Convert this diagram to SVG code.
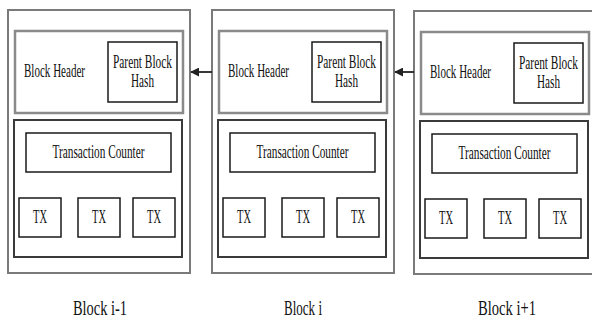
<svg xmlns="http://www.w3.org/2000/svg" width="592" height="320" viewBox="0 0 592 320">
<style>
.outer{fill:#fff;stroke:#7a7a7a;stroke-width:2}
.hdr{fill:#fff;stroke:#8a8a8a;stroke-width:2.5}
.body{fill:#fff;stroke:#3a3a3a;stroke-width:2}
.box{fill:#fff;stroke:#1a1a1a;stroke-width:1.5}
text{font-family:"Liberation Serif","DejaVu Serif","Times New Roman",serif;fill:#111}
.t{font-size:18px}
.m{text-anchor:middle}
.lbl{font-size:21px;text-anchor:middle}
.conn{stroke:#222;stroke-width:1.8;fill:none}
</style>
<defs>
<marker id="ah" viewBox="0 0 10 10" refX="9" refY="5" markerWidth="5" markerHeight="5" orient="auto">
<path d="M0,0 L10,5 L0,10 z" fill="#222"/>
</marker>
<g id="blk">
<rect class="outer" x="8" y="10" width="182" height="263"/>
<rect class="hdr" x="15" y="31" width="168" height="82"/>
<text class="t" x="24" y="77" textLength="61" lengthAdjust="spacingAndGlyphs">Block Header</text>
<rect class="box" x="108" y="42" width="69" height="60"/>
<text class="t m" x="142.5" y="68" textLength="59" lengthAdjust="spacingAndGlyphs">Parent Block</text>
<text class="t m" x="142.5" y="87" textLength="23" lengthAdjust="spacingAndGlyphs">Hash</text>
<rect class="body" x="14" y="120" width="168" height="137"/>
<rect class="box" x="26" y="133" width="145" height="39"/>
<text class="t m" x="98.5" y="158" textLength="92" lengthAdjust="spacingAndGlyphs">Transaction Counter</text>
<rect class="box" x="19" y="198" width="42" height="39"/>
<text class="t m" x="40" y="223" textLength="14" lengthAdjust="spacingAndGlyphs">TX</text>
<rect class="box" x="78" y="198" width="42" height="39"/>
<text class="t m" x="99" y="223" textLength="14" lengthAdjust="spacingAndGlyphs">TX</text>
<rect class="box" x="133" y="198" width="42" height="39"/>
<text class="t m" x="154" y="223" textLength="14" lengthAdjust="spacingAndGlyphs">TX</text>
</g>
</defs>
<g id="block-i-minus-1">
<use href="#blk"/>
<text class="lbl" x="100" y="315" textLength="54" lengthAdjust="spacingAndGlyphs">Block i-1</text>
</g>
<g id="block-i">
<use href="#blk" transform="translate(204,0)"/>
<text class="lbl" x="303" y="315" textLength="38" lengthAdjust="spacingAndGlyphs">Block i</text>
</g>
<g id="block-i-plus-1">
<use href="#blk" transform="translate(406,1)"/>
<text class="lbl" x="507" y="315" textLength="58" lengthAdjust="spacingAndGlyphs">Block i+1</text>
</g>
<g id="connectors">
<line class="conn" x1="212" y1="72" x2="191" y2="72" marker-end="url(#ah)"/>
<line class="conn" x1="414" y1="72" x2="395" y2="72" stroke-width="2.4" marker-end="url(#ah)"/>
</g>
</svg>
